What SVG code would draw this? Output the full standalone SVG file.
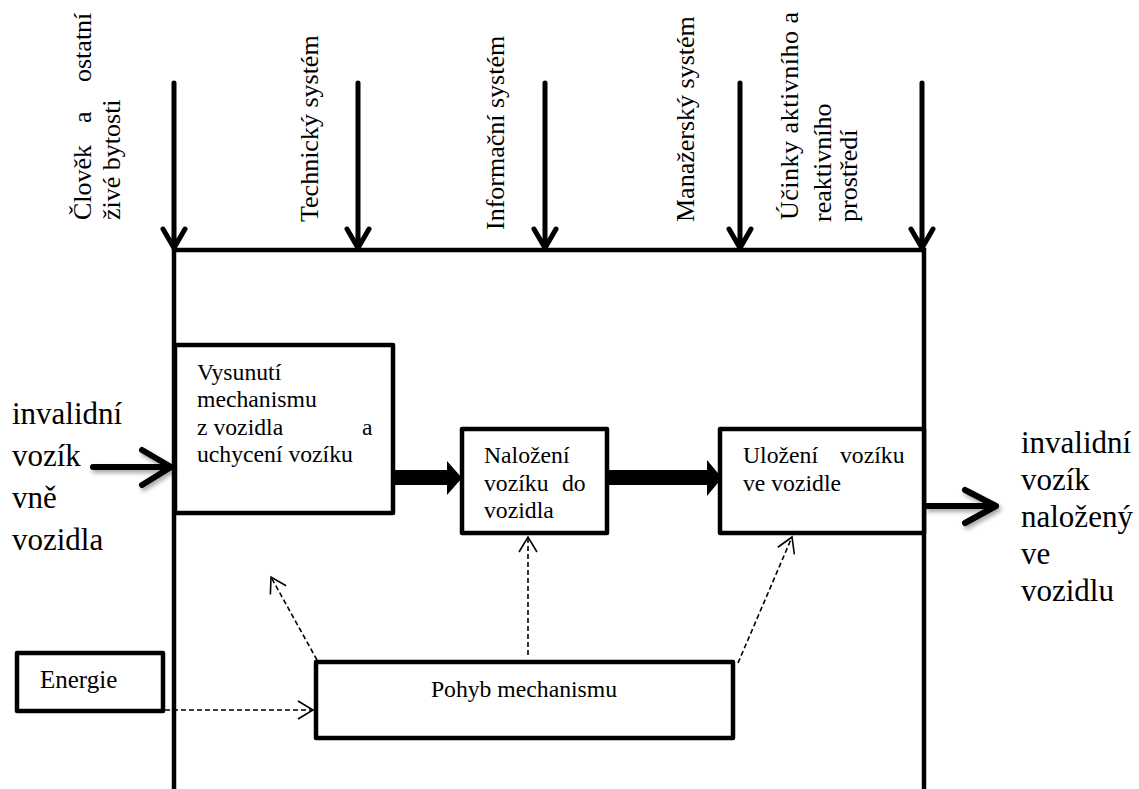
<svg xmlns="http://www.w3.org/2000/svg" width="1139" height="789" viewBox="0 0 1139 789">
<style>
text{font-family:'Liberation Serif','Times New Roman','DejaVu Serif',serif;fill:#000}
.lbl{font-size:26px}
.big{font-size:31px}
.box{font-size:23.7px}
.node{fill:#fff;stroke:#000;stroke-width:4.5;stroke-linejoin:round}
.frame{fill:none;stroke:#000;stroke-width:4.5}
.top{fill:none;stroke:#000;stroke-width:5;stroke-linecap:round;stroke-linejoin:round}
.io{fill:none;stroke:#000;stroke-width:6;stroke-linecap:round;stroke-linejoin:round}
.dash{fill:none;stroke:#000;stroke-width:1.6;stroke-dasharray:5 3}
</style>
<defs>
<marker id="open" viewBox="-1 -11 18 22" refX="15" refY="0" markerWidth="18" markerHeight="22" markerUnits="userSpaceOnUse" orient="auto">
<path d="M0,-9 L15,0 L0,9" fill="none" stroke="#000" stroke-width="1.6"/>
</marker>
<filter id="shadow" x="-20%" y="-50%" width="140%" height="200%">
<feDropShadow dx="2" dy="3" stdDeviation="2" flood-color="#000" flood-opacity="0.35"/>
</filter>
</defs>
<rect width="1139" height="789" fill="#fff"/>

<g id="labels-top">
<text class="lbl" transform="translate(91,220) rotate(-90)">Člověk</text>
<text class="lbl" transform="translate(91,123) rotate(-90)">a</text>
<text class="lbl" transform="translate(91,82) rotate(-90)">ostatní</text>
<text class="lbl" transform="translate(120,220) rotate(-90)">živé bytosti</text>
<text class="lbl" transform="translate(318,222) rotate(-90)">Technický systém</text>
<text class="lbl" transform="translate(504,230) rotate(-90)">Informační systém</text>
<text class="lbl" transform="translate(694,222) rotate(-90)">Manažerský systém</text>
<text class="lbl" transform="translate(798,220) rotate(-90)" textLength="208" lengthAdjust="spacing">Účinky aktivního a</text>
<text class="lbl" transform="translate(831,222) rotate(-90)">reaktivního</text>
<text class="lbl" transform="translate(857,222) rotate(-90)">prostředí</text>
</g>

<g id="system-boundary">
<path class="frame" d="M174,789 V250 H924 V789"/>
</g>

<g id="input-label">
<text class="big" x="12" y="424">invalidní</text>
<text class="big" x="12" y="466">vozík</text>
<text class="big" x="12" y="508">vně</text>
<text class="big" x="12" y="550">vozidla</text>
</g>

<g id="output-label">
<text class="big" x="1021" y="453">invalidní</text>
<text class="big" x="1021" y="490">vozík</text>
<text class="big" x="1021" y="527">naložený</text>
<text class="big" x="1021" y="564">ve</text>
<text class="big" x="1021" y="601">vozidlu</text>
</g>

<g id="node-vysunuti">
<rect class="node" x="175" y="345" width="218" height="168"/>
<text class="box" x="197" y="380">Vysunutí</text>
<text class="box" x="197" y="407">mechanismu</text>
<text class="box" x="197" y="435">z vozidla</text>
<text class="box" x="362" y="435">a</text>
<text class="box" x="197" y="462">uchycení vozíku</text>
</g>

<g id="node-nalozeni">
<rect class="node" x="462" y="429" width="145" height="104"/>
<text class="box" x="484" y="463">Naložení</text>
<text class="box" x="484" y="491">vozíku</text>
<text class="box" x="562" y="491">do</text>
<text class="box" x="484" y="518">vozidla</text>
</g>

<g id="node-ulozeni">
<rect class="node" x="720" y="429" width="204" height="104"/>
<text class="box" x="743" y="463">Uložení</text>
<text class="box" x="840" y="463">vozíku</text>
<text class="box" x="743" y="491">ve vozidle</text>
</g>

<g id="node-energie">
<rect class="node" x="17" y="653" width="146" height="58"/>
<text class="box" x="40" y="688" style="font-size:25px">Energie</text>
</g>

<g id="node-pohyb">
<rect class="node" x="316" y="662" width="417" height="76"/>
<text class="box" x="524" y="697" text-anchor="middle">Pohyb mechanismu</text>
</g>

<g id="connectors">
<path class="top" d="M174,83 V248 M163,229 L174,248 L185,229"/>
<path class="top" d="M358,83 V248 M347,229 L358,248 L369,229"/>
<path class="top" d="M545,83 V248 M534,229 L545,248 L556,229"/>
<path class="top" d="M740,83 V248 M729,229 L740,248 L751,229"/>
<path class="top" d="M922,83 V248 M911,229 L922,248 L933,229"/>
<path class="io" filter="url(#shadow)" d="M93,467 H170 M142,450 L171,467 L142,485"/>
<path class="io" filter="url(#shadow)" d="M927,506 H995 M965,490 L996,506 L965,523"/>
<path d="M393,470 H447 V461 L462,478 L447,495 V485 H393 Z" fill="#000"/>
<path d="M607,470 H707 V460 L722,478 L707,496 V485 H607 Z" fill="#000"/>
<path class="dash" d="M165,710 L313,710" marker-end="url(#open)"/>
<path class="dash" d="M317,660 L271,577" marker-end="url(#open)"/>
<path class="dash" d="M528,655 L528,537" marker-end="url(#open)"/>
<path class="dash" d="M738,663 L792,537" marker-end="url(#open)"/>
</g>
</svg>
